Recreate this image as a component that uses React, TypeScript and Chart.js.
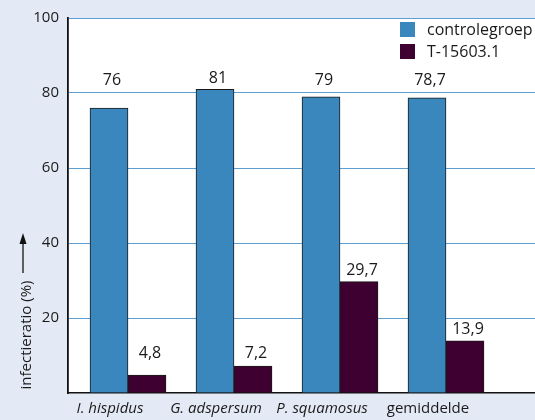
import React, { useEffect, useRef } from "react";
import { Chart, registerables } from "chart.js";

Chart.register(...registerables);

const categories = ["I. hispidus", "G. adspersum", "P. squamosus", "gemiddelde"];
const italicCategory = [true, true, true, false];
const controlValues = [76, 81, 79, 78.7];
const treatedValues = [4.8, 7.2, 29.7, 13.9];
const seriesNames = ["controlegroep", "T-15603.1"];
const yTicks = [0, 20, 40, 60, 80, 100];

const BLUE = "#3a87be";
const MAROON = "#3d0030";
const BG = "#e4eaf5";
const FONT = "'Open Sans', 'Noto Sans', sans-serif";

const fmt = (v: number) => String(v).replace(".", ",");

const decorPlugin = {
  id: "decor",
  beforeDraw(chart: any) {
    const { ctx, chartArea } = chart;
    ctx.save();
    ctx.fillStyle = BG;
    ctx.fillRect(0, 0, chart.width, chart.height);
    ctx.fillStyle = "#ffffff";
    ctx.fillRect(chartArea.left, chartArea.top, chartArea.right - chartArea.left, chartArea.bottom - chartArea.top);
    ctx.restore();
  },
  afterDatasetsDraw(chart: any) {
    const { ctx } = chart;
    const yScale = chart.scales.y;
    const floors = [80.5, 7.7];
    ctx.save();
    ctx.font = `16px ${FONT}`;
    ctx.fillStyle = "#1a1a1a";
    ctx.textAlign = "center";
    ctx.textBaseline = "middle";
    chart.data.datasets.forEach((ds: any, di: number) => {
      const meta = chart.getDatasetMeta(di);
      meta.data.forEach((bar: any, i: number) => {
        const v = ds.data[i].y;
        const y = Math.min(bar.y, yScale.getPixelForValue(floors[di])) - 11;
        ctx.fillText(fmt(v), bar.x + 3, y);
      });
    });
    ctx.restore();
  },
  afterDraw(chart: any) {
    const { ctx } = chart;
    ctx.save();
    ctx.font = `15px ${FONT}`;
    ctx.fillStyle = "#1a1a1a";
    ctx.translate(27, 335);
    ctx.rotate(-Math.PI / 2);
    ctx.textAlign = "center";
    ctx.textBaseline = "middle";
    ctx.fillText("infectieratio (%)", 0, 0);
    ctx.restore();
    ctx.save();
    ctx.strokeStyle = "#111";
    ctx.fillStyle = "#111";
    ctx.lineWidth = 1.3;
    ctx.beginPath();
    ctx.moveTo(23, 273);
    ctx.lineTo(23, 240);
    ctx.stroke();
    ctx.beginPath();
    ctx.moveTo(23, 233);
    ctx.lineTo(19.5, 244);
    ctx.lineTo(26.5, 244);
    ctx.closePath();
    ctx.fill();
    ctx.restore();
    ctx.save();
    const colors = [BLUE, MAROON];
    ctx.font = `16px ${FONT}`;
    ctx.textAlign = "left";
    ctx.textBaseline = "middle";
    seriesNames.forEach((name, i) => {
      const top = 22 + i * 22;
      ctx.fillStyle = colors[i];
      ctx.fillRect(400, top, 15, 15);
      ctx.fillStyle = "#1a1a1a";
      ctx.fillText(name, 427, top + 8);
    });
    ctx.restore();
  },
};

export default function App() {
  const ref = useRef<HTMLCanvasElement | null>(null);
  useEffect(() => {
    document.body.style.margin = "0";
    document.body.style.background = BG;
    const canvas = ref.current;
    if (!canvas) return;
    const chart = new Chart(canvas, {
      type: "bar",
      data: {
        datasets: [
          {
            label: seriesNames[0],
            data: controlValues.map((v, i) => ({ x: i, y: v })),
            backgroundColor: BLUE,
            borderColor: "#1a1a1a",
            borderWidth: 1,
            barThickness: 38,
          },
          {
            label: seriesNames[1],
            data: treatedValues.map((v, i) => ({ x: i, y: v })),
            backgroundColor: MAROON,
            borderColor: "#1a1a1a",
            borderWidth: 1,
            barThickness: 38,
          },
        ],
      },
      options: {
        animation: false,
        responsive: false,
        maintainAspectRatio: false,
        layout: { padding: { top: 16, right: 0, left: 0, bottom: 0 } },
        plugins: { legend: { display: false }, tooltip: { enabled: false } },
        scales: {
          x: {
            type: "linear",
            offset: false,
            min: -60 / 106,
            max: (535 - 128) / 106,
            afterBuildTicks: (scale: any) => {
              scale.ticks = categories.map((_, i) => ({ value: i }));
            },
            afterFit: (scale: any) => {
              scale.height = 27;
            },
            grid: { display: false, drawTicks: false },
            border: { display: true, color: "#111", width: 1.5 },
            ticks: {
              autoSkip: false,
              maxRotation: 0,
              padding: 7,
              labelOffset: -18,
              color: "#1a1a1a",
              font: (ctx: any) => ({
                family: FONT,
                size: 15,
                style: italicCategory[ctx.index] ? "italic" : "normal",
              }),
              callback: (v: any) => categories[v] ?? "",
            },
          },
          y: {
            min: 0,
            max: 100,
            afterBuildTicks: (scale: any) => {
              scale.ticks = yTicks.map((v) => ({ value: v }));
            },
            afterFit: (scale: any) => {
              scale.width = 68;
            },
            grid: {
              color: (ctx: any) => (ctx.tick && ctx.tick.value === 0 ? "rgba(0,0,0,0)" : "#5e9fd3"),
              lineWidth: 1,
              drawTicks: false,
            },
            border: { display: true, color: "#111", width: 1.8 },
            ticks: {
              padding: 9,
              color: "#1a1a1a",
              font: { family: FONT, size: 15 },
              callback: (v: any) => (v === 0 ? "" : String(v)),
            },
          },
        },
      },
      plugins: [decorPlugin],
    } as any);
    return () => chart.destroy();
  }, []);
  return (
    <div style={{ width: 535, height: 420, background: BG }}>
      <canvas ref={ref} width={535} height={420} style={{ display: "block" }} />
    </div>
  );
}
